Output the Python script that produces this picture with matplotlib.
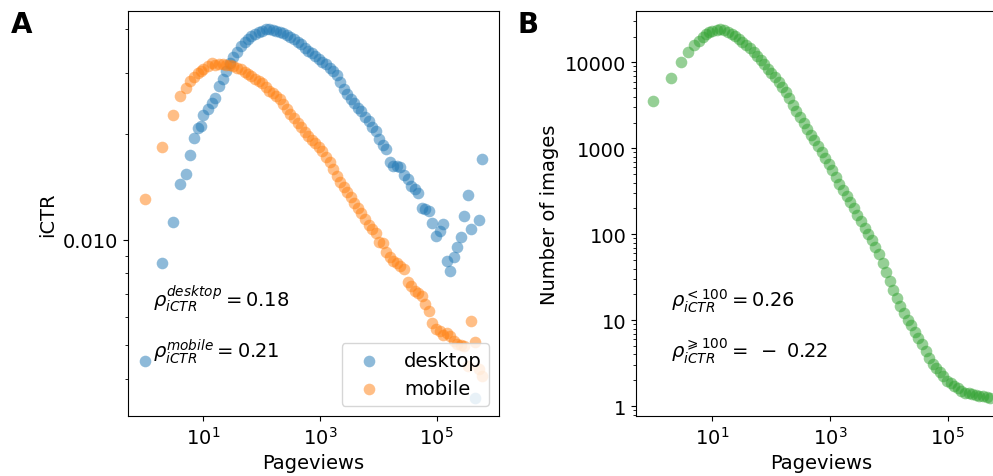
import matplotlib
matplotlib.use("Agg")
import matplotlib.pyplot as plt
from matplotlib.ticker import FormatStrFormatter, NullFormatter, NullLocator, FuncFormatter

plt.rcParams["font.family"] = "DejaVu Sans"
plt.rcParams["font.size"] = 14

# log-binned pageview values (bin positions)
pageviews = [1, 2, 3, 4, 5, 6, 7, 8, 9, 10,
             12, 14, 16, 19, 22, 25, 29, 33, 38, 44,
             51, 58, 67, 77, 89, 102, 117, 135, 155, 179,
             205, 236, 272, 313, 360, 414, 476, 548, 630, 724,
             833, 958, 1102, 1268, 1459, 1678, 1930, 2220, 2554, 2938,
             3380, 3888, 4472, 5145, 5918, 6808, 7832, 9009, 10364, 11922,
             13714, 15776, 18148, 20876, 24015, 27625, 31778, 36556, 42052, 48374,
             55647, 64013, 73637, 84708, 97443, 112094, 128947, 148334, 170636, 196278,
             225789, 259733, 298788, 343714, 395395, 454845, 523234, 601887]

ictr_desktop = [0.00448, 0.00855, 0.01121, 0.01440, 0.01539, 0.01744, 0.01951, 0.02084, 0.02112, 0.02271,
                0.02362, 0.02457, 0.02540, 0.02750, 0.02880, 0.03036, 0.03201, 0.03330, 0.03442, 0.03581,
                0.03677, 0.03750, 0.03825, 0.03876, 0.03927, 0.03954, 0.03992, 0.03992, 0.03966, 0.03954,
                0.03927, 0.03901, 0.03850, 0.03800, 0.03750, 0.03677, 0.03629, 0.03534, 0.03464, 0.03419,
                0.03352, 0.03286, 0.03221, 0.03179, 0.03096, 0.03036, 0.02957, 0.02823, 0.02696, 0.02608,
                0.02523, 0.02457, 0.02378, 0.02332, 0.02241, 0.02183, 0.02098, 0.02043, 0.01938, 0.01863,
                0.01814, 0.01666, 0.01622, 0.01622, 0.01612, 0.01529, 0.01489, 0.01421, 0.01393, 0.01357,
                0.01233, 0.01221, 0.01205, 0.01113, 0.01022, 0.01056, 0.01106, 0.00866, 0.00811, 0.00890,
                0.00950, 0.01015, 0.01166, 0.01339, 0.01070, 0.00353, 0.01136, 0.01699]

ictr_mobile = [0.01304, 0.01839, 0.02271, 0.02574, 0.02713, 0.02842, 0.02917, 0.02995, 0.03036, 0.03076,
               0.03138, 0.03201, 0.03158, 0.03179, 0.03179, 0.03158, 0.03158, 0.03138, 0.03096, 0.03076,
               0.03015, 0.02975, 0.02936, 0.02880, 0.02842, 0.02805, 0.02732, 0.02661, 0.02626, 0.02574,
               0.02523, 0.02441, 0.02362, 0.02286, 0.02227, 0.02154, 0.02098, 0.02030, 0.01977, 0.01925,
               0.01888, 0.01839, 0.01791, 0.01721, 0.01666, 0.01590, 0.01519, 0.01459, 0.01412, 0.01366,
               0.01322, 0.01270, 0.01229, 0.01190, 0.01143, 0.01099, 0.01070, 0.01042, 0.00982, 0.00976,
               0.00920, 0.00890, 0.00867, 0.00855, 0.00839, 0.00822, 0.00755, 0.00735, 0.00711, 0.00702,
               0.00688, 0.00653, 0.00623, 0.00576, 0.00553, 0.00546, 0.00532, 0.00539, 0.00528, 0.00511,
               0.00501, 0.00498, 0.00495, 0.00436, 0.00583, 0.00508, 0.00425, 0.00408]

n_images = [3557, 6597, 10000, 13080, 15860, 17810, 19560, 21200, 22380, 23290,
            23920, 24260, 23730, 22380, 21200, 20370, 18540, 17100, 15780, 14560,
            13080, 11910, 10690, 9480, 8400, 7550, 6780, 5930, 5250, 4530,
            3860, 3200, 2720, 2317, 1972, 1679, 1449, 1250, 1064, 905,
            771, 656, 558, 463, 384, 327, 278, 237, 201, 167,
            142, 118, 100, 85.3, 70.8, 58.6, 46.0, 36.2, 28.4, 22.3,
            18.0, 14.5, 12.0, 10.2, 8.72, 7.23, 6.15, 5.24, 4.34, 3.60,
            3.06, 2.75, 2.47, 2.22, 1.99, 1.84, 1.70, 1.61, 1.52, 1.44,
            1.41, 1.37, 1.35, 1.33, 1.30, 1.28, 1.26]

fig = plt.figure(figsize=(9.93, 4.77), dpi=100)
ax1 = fig.add_axes([128 / 993, 60 / 477, 371 / 993, 405 / 477])
ax2 = fig.add_axes([636 / 993, 60 / 477, 371 / 993, 405 / 477])

# panel A
ax1.scatter(pageviews, ictr_desktop, s=70, alpha=0.5, linewidths=0, color="tab:blue", label="desktop")
ax1.scatter(pageviews, ictr_mobile, s=70, alpha=0.5, linewidths=0, color="tab:orange", label="mobile")
ax1.set_xscale("log")
ax1.set_yscale("log")
ax1.set_xticks([1e1, 1e3, 1e5])
ax1.xaxis.set_minor_locator(NullLocator())
ax1.yaxis.set_major_formatter(FormatStrFormatter("%.3f"))
ax1.yaxis.set_minor_formatter(NullFormatter())
ax1.set_xlabel("Pageviews")
ax1.set_ylabel("iCTR")
ax1.legend(loc="lower right")
ax1.text(0.067, 0.271, r"$\rho^{desktop}_{iCTR} = 0.18$", transform=ax1.transAxes, va="baseline")
ax1.text(0.067, 0.145, r"$\rho^{mobile}_{iCTR} = 0.21$", transform=ax1.transAxes, va="baseline")

# panel B
ax2.scatter(pageviews[:len(n_images)], n_images, s=70, alpha=0.5, linewidths=0, color="tab:green")
ax2.set_xscale("log")
ax2.set_yscale("log")
ax2.set_xticks([1e1, 1e3, 1e5])
ax2.xaxis.set_minor_locator(NullLocator())
ax2.yaxis.set_major_formatter(FuncFormatter(lambda v, p: f"{v:g}"))
ax2.yaxis.set_minor_formatter(NullFormatter())
ax2.set_xlabel("Pageviews")
ax2.set_ylabel("Number of images")
ax2.text(0.094, 0.272, r"$\rho^{<100}_{iCTR} = 0.26$", transform=ax2.transAxes, va="baseline")
ax2.text(0.094, 0.145, r"$\rho^{\geqslant 100}_{iCTR} =\;-\;0.22$", transform=ax2.transAxes, va="baseline")

fig.text(11 / 993, 1 - 11 / 477, "A", fontsize=20, fontweight="bold", va="top", ha="left")
fig.text(518 / 993, 1 - 11 / 477, "B", fontsize=20, fontweight="bold", va="top", ha="left")

fig.savefig("out.png", dpi=100)
